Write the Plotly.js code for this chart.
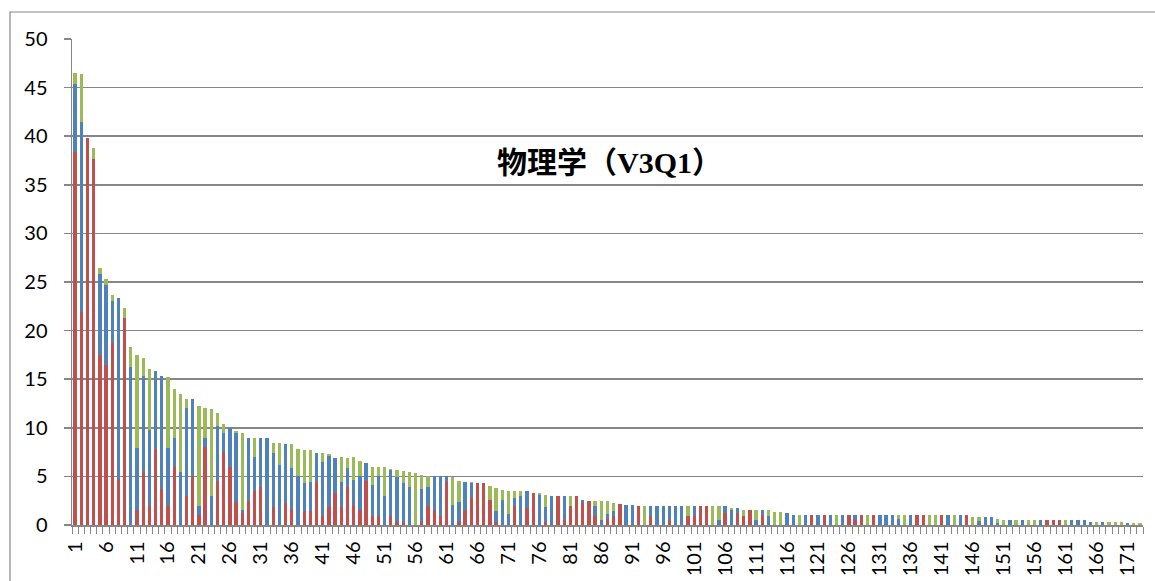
<!DOCTYPE html>
<html>
<head>
<meta charset="utf-8">
<script src="https://cdn.plot.ly/plotly-3.0.1.min.js"></script>
<style>html,body{margin:0;padding:0;background:#fff;}#chart{width:1155px;height:581px;}</style>
</head>
<body>
<div id="chart"></div>
<script>
// categories 1..173
const categories = Array.from({length: 173}, (_, i) => i + 1);

const redValues = [
38.4,21.9,39.8,37.7,17.5,16.5,18.7,4.7,21.3,0,
1.5,5.5,2.0,7.8,3.7,2.0,6.0,0,3.0,5.0,
1.0,8.0,0,4.5,7.5,6.0,2.4,1.2,2.5,3.5,
3.9,0,1.9,0,2.3,1.6,0,1.4,1.4,4.4,
0.9,1.9,3.3,1.9,3.9,2.1,1.5,4.5,0.9,0.9,
0,0.9,0.35,0.35,0,0,0.35,1.95,1.5,0.9,
4.45,0,0.35,1.5,2.8,4.3,4.3,2.6,0.35,0,
0,1.95,0,1.7,3.3,0,0.35,0,3.0,0.5,
1.95,3.0,2.3,2.5,0.9,0,0.6,0.9,2.2,0,
0,2.0,0,0.9,0,0,0.5,0,0,0.9,
0.9,2.0,2.0,0,0,1.25,0,1.25,0.95,1.5,
0,1.0,0,0,0,0,0,0,0,1.0,
0,1.0,0,0,0,1.0,0.5,1.0,0,1.0,
0,0,0,0,0,0,1.0,1.0,0,0,
1.0,0,0,0,1.0,0,0,0,0,0,
0,0,0,0,0,0,0,0.5,0.5,0.5,
0,0,0,0,0,0,0,0,0,0,
0,0,0
];

const blueValues = [
7.0,19.6,0,0,8.3,8.2,4.3,18.7,0,16.3,
6.4,9.8,7.8,8.0,11.6,5.9,3.0,5.5,9.0,8.0,
1.0,1.0,3.0,5.7,2.0,4.0,7.1,0.3,6.5,3.5,
5.1,9.0,5.5,6.2,6.0,4.3,5.0,2.9,3.0,3.0,
5.6,5.2,3.6,2.5,2.0,2.5,3.5,1.9,3.2,4.1,
3.0,4.75,4.55,3.95,3.9,0,3.35,1.95,3.5,4.1,
0.55,2.05,2.05,2.95,1.5,0,0,0,1.05,2.6,
1.1,0.85,3.0,1.8,0,3.1,1.55,3.0,0,2.5,
0,0,0.3,0,1.05,0.5,0.5,0.55,0,2.05,
2.05,0,0,1.1,2.0,2.0,1.5,2.0,2.0,0,
1.1,0,0,0,0.5,0.75,1.55,0.45,0,0,
0.5,0.5,0.95,0,0,1.25,1.0,0,1.0,0,
1.0,0,1.0,0,1.0,0,0.5,0,0,0,
1.0,1.0,1.0,0.6,0,1.0,0,0,0,0,
0,1.0,0,1.0,0,0,0.45,0.8,0.8,0.25,
0,0.5,0,0.5,0,0,0.5,0,0,0,
0,0.5,0.5,0.5,0.3,0,0.3,0,0,0,
0.2,0,0
];

const greenValues = [
1.1,4.9,0,1.1,0.6,0.6,0.7,0,1.0,2.0,
9.6,1.9,6.2,0,0,7.3,5.0,8.0,1.0,0,
10.2,3.0,8.9,1.3,0.9,0,0.2,8.0,0,2.0,
0,0,1.0,2.2,0,2.4,2.8,3.4,3.3,0,
0.9,0.2,0,2.6,1.0,2.4,1.6,0,1.9,1.0,
3.0,0.1,0.75,1.3,1.6,5.3,1.4,1.1,0,0,
0,2.85,2.15,0,0.15,0,0,1.4,2.4,1.0,
2.4,0.7,0.5,0,0,0.15,1.15,0,0,0,
1.05,0,0,0,0.55,2.0,1.4,0.85,0,0,
0,0,2.0,0,0,0,0,0,0,1.1,
0,0,0,2.0,1.5,0,0.25,0,0.55,0,
1.0,0,0.55,1.35,1.35,0,0,1.0,0,0,
0,0,0,1.0,0,0,0,0,1.0,0,
0,0,0,0.4,1.0,0,0,0,1.0,1.0,
0,0,1.0,0,0,0.8,0.35,0,0,0.35,
0.5,0,0.5,0,0.5,0.5,0,0,0,0,
0.5,0,0,0,0,0.3,0,0.3,0.3,0.3,
0,0.17,0.17
];

const xTickLabels = categories.filter(c => (c - 1) % 5 === 0);
const yTickValues = [0, 5, 10, 15, 20, 25, 30, 35, 40, 45, 50];
const chartTitle = '物理学（V3Q1）';

const gray = '#868686';
const tickFont = {family: 'Lato, "Open Sans", sans-serif', size: 20, color: '#000'};

const traces = [
  {type: 'bar', name: 'red', x: categories, y: redValues, marker: {color: '#C0504D'}},
  {type: 'bar', name: 'blue', x: categories, y: blueValues, marker: {color: '#4F81BD'}},
  {type: 'bar', name: 'green', x: categories, y: greenValues, marker: {color: '#9BBB59'}}
];

const layout = {
  width: 1155, height: 581,
  margin: {l: 72, r: 12, t: 39, b: 56, pad: 0},
  paper_bgcolor: '#fff', plot_bgcolor: '#fff',
  barmode: 'stack', bargap: 0.47,
  showlegend: false,
  xaxis: {
    type: 'linear', range: [0.5, 173.5], autorange: false,
    tickmode: 'array', tickvals: xTickLabels, ticktext: xTickLabels.map(String),
    tickangle: -90, ticks: '', tickfont: tickFont, ticklabelstandoff: 7,
    showgrid: false, zeroline: false,
    showline: true, linecolor: gray, linewidth: 1.5,
    minor: {ticks: 'outside', ticklen: 7, tickcolor: gray, tickwidth: 1, tick0: 0.5, dtick: 1, showgrid: false}
  },
  yaxis: {
    range: [0, 50], autorange: false,
    tickmode: 'array', tickvals: yTickValues, ticktext: yTickValues.map(String),
    ticks: 'outside', ticklen: 7, tickcolor: gray, tickwidth: 1.5,
    tickfont: tickFont, ticklabelstandoff: 12,
    showgrid: true, gridcolor: gray, gridwidth: 1.5,
    zeroline: false, showline: true, linecolor: gray, linewidth: 1.5
  },
  annotations: [{
    xref: 'paper', yref: 'paper', x: 0.502, y: 0.745,
    xanchor: 'center', yanchor: 'middle', showarrow: false,
    text: '<b>' + chartTitle + '</b>',
    font: {family: '"Times New Roman", "Liberation Serif", "Noto Sans CJK SC", serif', size: 30, color: '#000'}
  }],
  shapes: [{
    type: 'rect', xref: 'paper', yref: 'paper',
    x0: -0.0579, x1: 1.2, y0: -0.3, y1: 1.0556,
    line: {color: gray, width: 1.2}, fillcolor: 'rgba(0,0,0,0)', layer: 'below'
  }]
};

Plotly.newPlot('chart', traces, layout, {staticPlot: true, displayModeBar: false});
</script>
</body>
</html>
